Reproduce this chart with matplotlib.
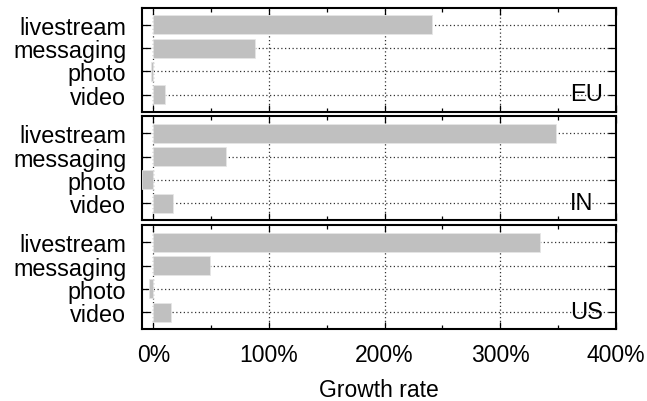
import matplotlib.pyplot as plt
from matplotlib.ticker import MultipleLocator, FuncFormatter

plt.rcParams['font.family'] = ['Liberation Sans', 'DejaVu Sans']

# Data (growth rate, %)
categories = ['livestream', 'messaging', 'photo', 'video']
regions = ['EU', 'IN', 'US']
eu_growth = [241, 88, -2, 10]
in_growth = [348, 63, -9.5, 17]
us_growth = [334, 49, -3.5, 15]
growth = [eu_growth, in_growth, us_growth]

fig = plt.figure(figsize=(6.47, 4.02), dpi=100)

# panel boxes in figure coords (left, bottom, width, height)
left, width = 0.219, 0.733
panel_bottoms = [0.720, 0.450, 0.179]
panel_height = 0.258

axes = []
for i, (region, vals) in enumerate(zip(regions, growth)):
    ax = fig.add_axes([left, panel_bottoms[i], width, panel_height])
    axes.append(ax)
    ypos = list(range(len(categories)))
    ax.barh(ypos, vals, height=0.82, color='#c0c0c0', edgecolor='#e6e6e6',
            linewidth=0.6, zorder=3)
    ax.set_xlim(-10, 400)
    ax.set_ylim(3.73, -0.73)
    ax.set_yticks(ypos)
    ax.set_yticklabels(categories, fontsize=16.8)
    ax.xaxis.set_major_locator(MultipleLocator(100))
    ax.xaxis.set_minor_locator(MultipleLocator(50))
    ax.grid(True, which='major', linestyle=(0, (1, 2)), color='#333333',
            linewidth=0.9, zorder=0)
    ax.tick_params(axis='x', which='major', direction='in', top=True, bottom=True,
                   length=5, width=0.9, labelsize=16.5, pad=10)
    ax.tick_params(axis='x', which='minor', direction='in', top=True, bottom=True,
                   length=3, width=0.9)
    ax.tick_params(axis='y', direction='in', left=True, right=True,
                   length=6, width=0.9, pad=11)
    for s in ax.spines.values():
        s.set_linewidth(1.5)
    ax.text(0.903, 3.25, region, transform=ax.get_yaxis_transform(),
            fontsize=17, ha='left', va='baseline', zorder=4)
    if i < len(regions) - 1:
        ax.tick_params(axis='x', labelbottom=False)
    else:
        ax.xaxis.set_major_formatter(FuncFormatter(lambda v, p: f'{v:.0f}%'))
        ax.set_xlabel('Growth rate', fontsize=16.5, labelpad=9)

fig.savefig('out.png', dpi=100)
